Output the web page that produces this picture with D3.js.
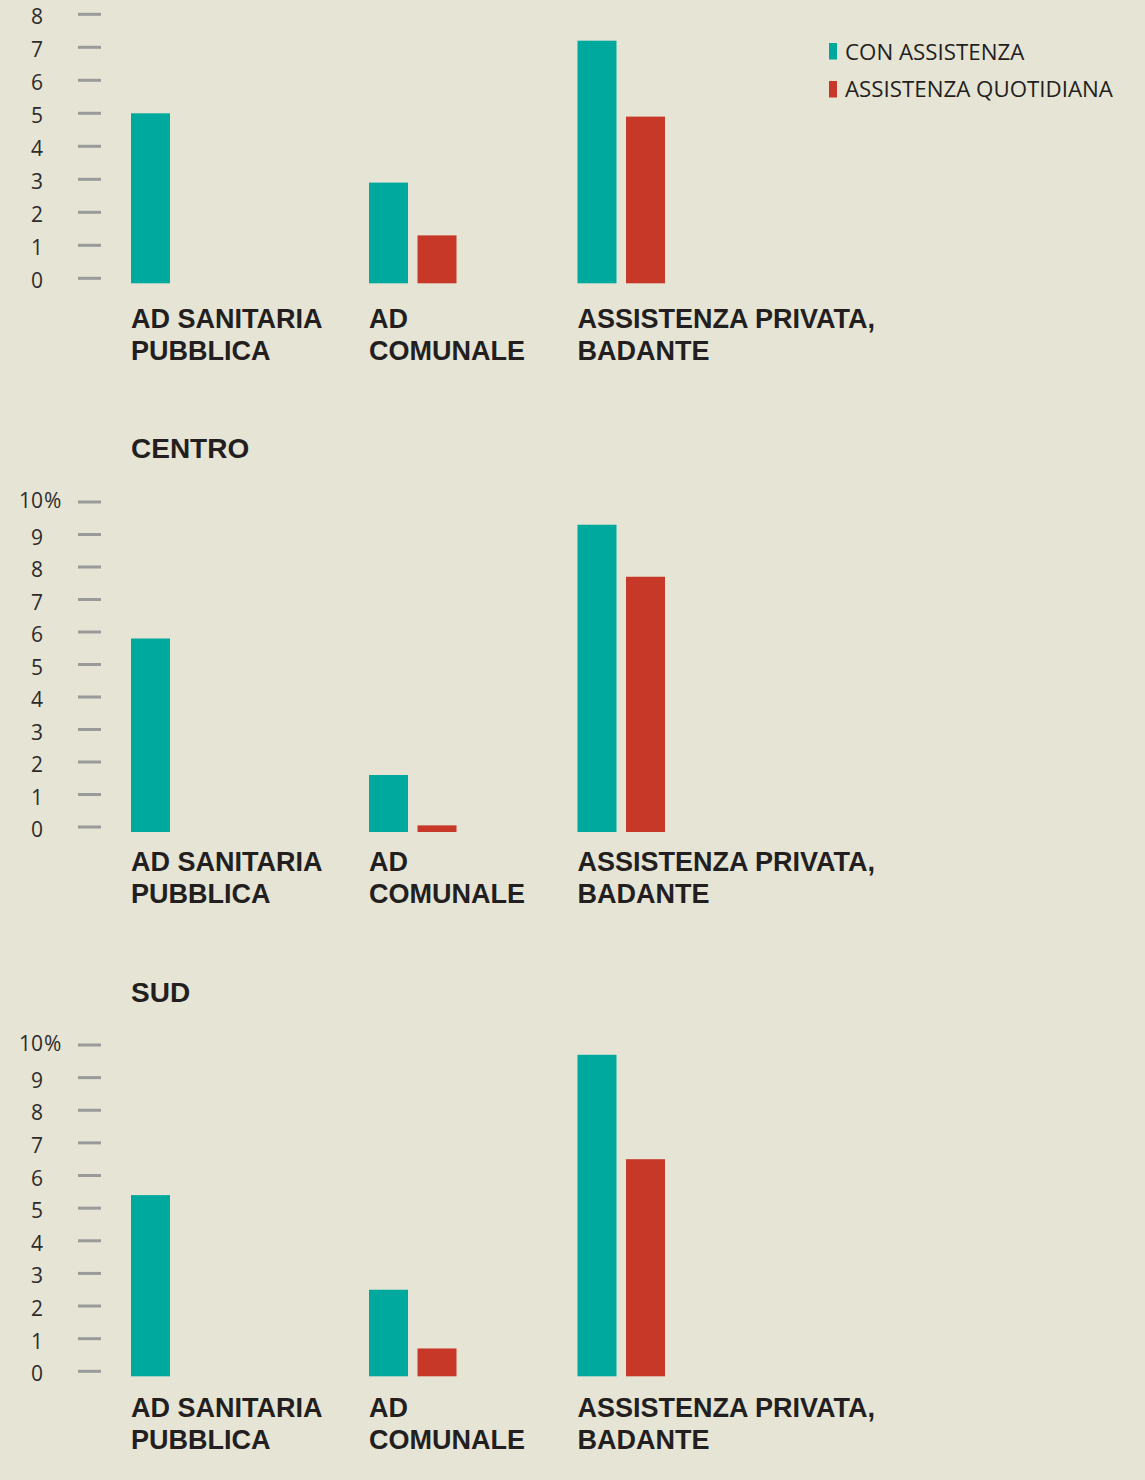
<!DOCTYPE html>
<html><head><meta charset="utf-8">
<script src="https://cdn.jsdelivr.net/npm/d3@7"></script>
<style>
html,body{margin:0;padding:0;background:#e6e4d4;}
svg{display:block;}
</style></head>
<body>
<svg id="chart" width="1145" height="1480"></svg>
<script>
// ---- data ----
const categories = ["AD SANITARIA PUBBLICA", "AD COMUNALE", "ASSISTENZA PRIVATA, BADANTE"];
const categoryLines = [["AD SANITARIA", "PUBBLICA"], ["AD", "COMUNALE"], ["ASSISTENZA PRIVATA,", "BADANTE"]];
const seriesNames = ["CON ASSISTENZA", "ASSISTENZA QUOTIDIANA"];
const panelTitles = ["", "CENTRO", "SUD"];
const nordCon = [5.0, 2.9, 7.2];
const nordQuot = [null, 1.3, 4.9];
const centroCon = [5.8, 1.6, 9.3];
const centroQuot = [null, 0.05, 7.7];
const sudCon = [5.4, 2.5, 9.7];
const sudQuot = [null, 0.7, 6.5];
const ticksNord = [0, 1, 2, 3, 4, 5, 6, 7, 8];
const ticksCentroSud = [0, 1, 2, 3, 4, 5, 6, 7, 8, 9, 10];

// ---- styles ----
const TEAL = "#00a99d", RED = "#c83828", INK = "#231f20", TICK = "#9a9a9a";
const BOLD = "'Liberation Sans', Arial, sans-serif";
const REG = "'Open Sans', sans-serif";
const svg = d3.select("#chart");

const panels = [
  {title: panelTitles[0], con: nordCon, quot: nordQuot, ticks: ticksNord, max: 8, y0: 278.3, y1: 14.3, labelY: 328, pct: false},
  {title: panelTitles[1], con: centroCon, quot: centroQuot, ticks: ticksCentroSud, max: 10, y0: 827, y1: 502, labelY: 871, pct: true, titleY: 458},
  {title: panelTitles[2], con: sudCon, quot: sudQuot, ticks: ticksCentroSud, max: 10, y0: 1371.3, y1: 1045, labelY: 1417, pct: true, titleY: 1002}
];

const x = d3.scaleOrdinal().domain(categories).range([131, 369, 577.5]);
const barW = 39, redOff = 48.5, baseExt = 5;
const color = d3.scaleOrdinal().domain(seriesNames).range([TEAL, RED]);

panels.forEach(p => {
  const y = d3.scaleLinear().domain([0, p.max]).range([p.y0, p.y1]);
  const g = svg.append("g");

  // axis ticks
  const axis = d3.axisLeft(y).tickValues(p.ticks).tickSize(0).tickFormat("");
  const ag = g.append("g").attr("transform", "translate(78,0)").call(axis);
  ag.select(".domain").remove();
  g.selectAll(".tk").data(p.ticks).join("line")
    .attr("x1", 78).attr("x2", 101)
    .attr("y1", d => y(d)).attr("y2", d => y(d))
    .attr("stroke", TICK).attr("stroke-width", 3);
  g.selectAll(".tl").data(p.ticks).join("text")
    .attr("x", 43).attr("y", d => y(d) + (d === p.max && p.pct ? 6 : 10))
    .attr("text-anchor", "end")
    .attr("font-family", REG).attr("font-size", 21)
    .attr("fill", "#2e2b2b")
    .text(d => d);
  if (p.pct) {
    g.append("text").attr("x", 44).attr("y", y(p.max) + 6)
      .attr("font-family", REG).attr("font-size", 21)
      .attr("fill", "#2e2b2b").text("%");
  }

  // title
  if (p.title) {
    g.append("text").attr("x", 131).attr("y", p.titleY)
      .attr("font-family", BOLD).attr("font-weight", 700)
      .attr("font-size", 28).attr("fill", INK).text(p.title);
  }

  // bars
  const rows = [];
  categories.forEach((c, i) => {
    rows.push({cat: c, s: seriesNames[0], v: p.con[i], off: 0});
    if (p.quot[i] != null) rows.push({cat: c, s: seriesNames[1], v: p.quot[i], off: redOff});
  });
  g.selectAll(".bar").data(rows).join("rect")
    .attr("x", d => x(d.cat) + d.off)
    .attr("width", barW)
    .attr("y", d => y(d.v))
    .attr("height", d => y(0) - y(d.v) + baseExt)
    .attr("fill", d => color(d.s));

  // category labels
  categories.forEach((c, i) => {
    categoryLines[i].forEach((ln, j) => {
      g.append("text").attr("x", x(c)).attr("y", p.labelY + j * 32)
        .attr("font-family", BOLD).attr("font-weight", 700)
        .attr("font-size", 27).attr("fill", INK).text(ln);
    });
  });
});

// legend
const lg = svg.append("g");
seriesNames.forEach((s, i) => {
  lg.append("rect").attr("x", 829).attr("y", 43 + i * 38).attr("width", 8).attr("height", 16.5).attr("fill", color(s));
  lg.append("text").attr("x", 845).attr("y", 60 + i * 37)
    .attr("font-family", REG).attr("font-size", 22.3)
    .attr("fill", INK).text(s);
});
</script>
</body></html>
